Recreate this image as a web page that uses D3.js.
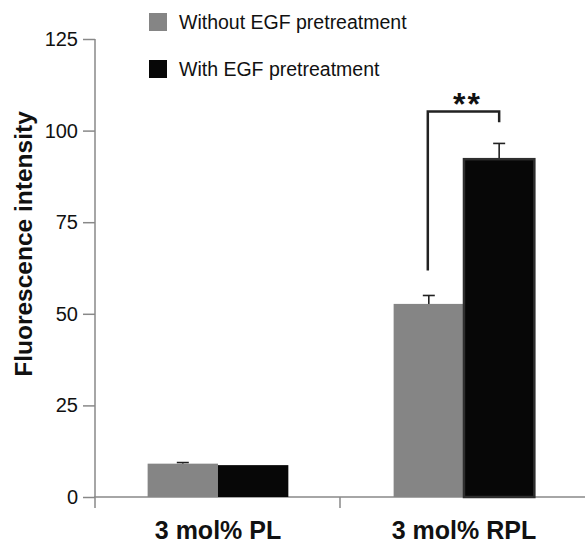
<!DOCTYPE html>
<html>
<head>
<meta charset="utf-8">
<script src="https://cdn.jsdelivr.net/npm/d3@7"></script>
<style>
  body { margin: 0; background: #fff; }
  text { font-family: "Liberation Sans", Arial, sans-serif; }
</style>
</head>
<body>
<div id="chart"></div>
<script>
/**
 * DATA
 * */
const categories = ["3 mol% PL", "3 mol% RPL"];
const seriesNames = ["Without EGF pretreatment", "With EGF pretreatment"];
const withoutEGF = [9.1, 52.7];
const withEGF = [8.7, 92.2];
const withoutErr = [0.3, 2.3];
const withErr = [0, 4.3];
const yTicks = [0, 25, 50, 75, 100, 125];
// significance bracket (data units): left foot, top, right foot
const bracket = { left: 61.8, top: 105.2, right: 102.3, label: "**" };

/**
 * CONSTANTS
 * */
const width = 585,
  height = 544;
const colors = ["#858585", "#070707"];

const svg = d3.select("#chart")
  .append("svg")
  .attr("width", width)
  .attr("height", height);

const y = d3.scaleLinear().domain([0, 125]).range([497, 39]);
const x0 = d3.scaleBand().domain(categories).range([94, 586]);
const bw = x0.bandwidth();
const x1 = d3.scaleBand().domain(seriesNames).range([bw * 0.218, bw * 0.79]);

// y axis
const yAxis = svg.append("g")
  .attr("transform", "translate(95,0)")
  .call(d3.axisLeft(y).tickValues(yTicks).tickSize(12).tickPadding(5).tickSizeOuter(0));
yAxis.select(".domain").remove();
yAxis.selectAll("line").attr("stroke", "#888").attr("stroke-width", 1.5);
yAxis.selectAll("text")
  .attr("font-size", 20)
  .attr("fill", "#111")
  .attr("font-family", "'Liberation Sans', Arial, sans-serif");

svg.append("line")
  .attr("x1", 95).attr("x2", 95)
  .attr("y1", y(125)).attr("y2", y(0) + 11)
  .attr("stroke", "#888").attr("stroke-width", 1.5);

// x axis
svg.append("line")
  .attr("x1", 94).attr("x2", 586)
  .attr("y1", y(0)).attr("y2", y(0))
  .attr("stroke", "#888").attr("stroke-width", 1.5);

svg.selectAll(".xtick")
  .data(categories.slice(1))
  .join("line")
  .attr("class", "xtick")
  .attr("x1", d => x0(d)).attr("x2", d => x0(d))
  .attr("y1", y(0)).attr("y2", y(0) + 11)
  .attr("stroke", "#888").attr("stroke-width", 1.5);

svg.selectAll(".xlabel")
  .data(categories)
  .join("text")
  .attr("class", "xlabel")
  .attr("x", d => x0(d) + bw / 2 + 1)
  .attr("y", 539)
  .attr("text-anchor", "middle")
  .attr("font-size", 25)
  .attr("font-weight", "bold")
  .attr("fill", "#111")
  .text(d => d);

// y label
svg.append("text")
  .attr("transform", "translate(32,244) rotate(-90)")
  .attr("text-anchor", "middle")
  .attr("font-size", 24.5)
  .attr("font-weight", "bold")
  .attr("fill", "#111")
  .text("Fluorescence intensity");

// bars
const rows = categories.map((c, i) => ({
  cat: c,
  vals: [
    { s: seriesNames[0], v: withoutEGF[i], e: withoutErr[i], k: 0 },
    { s: seriesNames[1], v: withEGF[i], e: withErr[i], k: 1 },
  ],
}));

const group = svg.selectAll(".grp")
  .data(rows)
  .join("g")
  .attr("class", "grp")
  .attr("transform", d => `translate(${x0(d.cat)},0)`);

// error bars behind bars
const err = group.selectAll(".err")
  .data(d => d.vals.filter(v => v.e > 0))
  .join("g")
  .attr("class", "err");
err.append("line")
  .attr("x1", d => x1(d.s) + x1.bandwidth() / 2)
  .attr("x2", d => x1(d.s) + x1.bandwidth() / 2)
  .attr("y1", d => y(d.v))
  .attr("y2", d => y(d.v + d.e))
  .attr("stroke", "#222").attr("stroke-width", 1.6);
err.append("line")
  .attr("x1", d => x1(d.s) + x1.bandwidth() / 2 - 6)
  .attr("x2", d => x1(d.s) + x1.bandwidth() / 2 + 6)
  .attr("y1", d => y(d.v + d.e))
  .attr("y2", d => y(d.v + d.e))
  .attr("stroke", "#222").attr("stroke-width", 1.6);

group.selectAll("rect")
  .data(d => d.vals.map(v => ({ ...v, cat: d.cat })))
  .join("rect")
  .attr("x", d => x1(d.s))
  .attr("width", x1.bandwidth())
  .attr("y", d => y(d.v))
  .attr("height", d => y(0) - y(d.v))
  .attr("fill", d => colors[d.k])
  .attr("stroke", d => (d.k === 1 && d.cat === categories[1]) ? "#2e2e2e" : "none")
  .attr("stroke-width", 2.5);

// significance bracket
const bx0 = x0(categories[1]) + x1(seriesNames[0]) + x1.bandwidth() / 2 - 1;
const bx1 = x0(categories[1]) + x1(seriesNames[1]) + x1.bandwidth() / 2;
svg.append("path")
  .attr("d", `M${bx0},${y(bracket.left)}V${y(bracket.top)}H${bx1}V${y(bracket.right)}`)
  .attr("fill", "none")
  .attr("stroke", "#222")
  .attr("stroke-width", 2.5);
svg.append("text")
  .attr("x", (bx0 + bx1) / 2 + 4)
  .attr("y", y(bracket.top) + 3)
  .attr("text-anchor", "middle")
  .attr("font-size", 32)
  .attr("letter-spacing", 2)
  .attr("font-weight", "bold")
  .attr("fill", "#111")
  .text(bracket.label);

// legend
const legend = svg.selectAll(".leg")
  .data(seriesNames)
  .join("g")
  .attr("class", "leg")
  .attr("transform", (d, i) => `translate(149,${13 + i * 47})`);
legend.append("rect")
  .attr("width", 18).attr("height", 18)
  .attr("fill", (d, i) => colors[i]);
legend.append("text")
  .attr("x", 30)
  .attr("y", 15.5)
  .attr("font-size", 19.5)
  .attr("fill", "#111")
  .text(d => d);
</script>
</body>
</html>
